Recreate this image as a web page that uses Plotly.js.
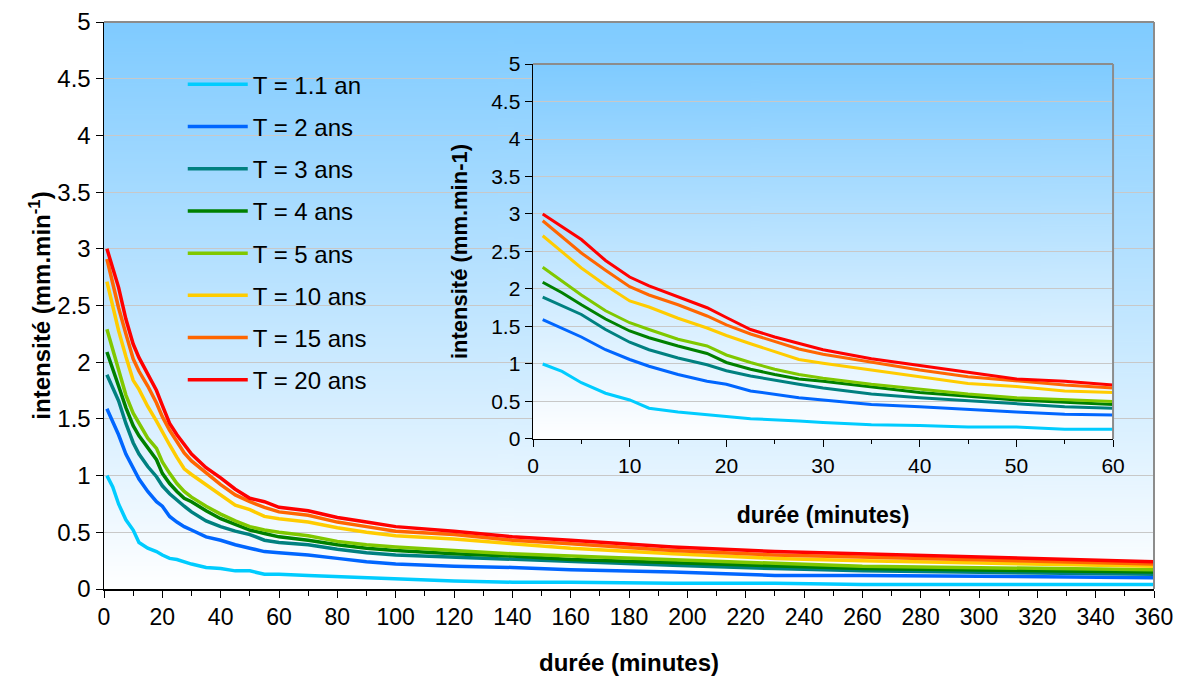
<!DOCTYPE html>
<html><head><meta charset="utf-8">
<script src="https://cdn.plot.ly/plotly-3.0.1.min.js"></script>
<style>html,body{margin:0;padding:0;background:#fff;} #chart{width:1187px;height:679px;}</style>
</head><body><div id="chart"></div>
<script>
// durée (minutes)
const durations = [1, 3, 5, 7.5, 10, 12, 15, 18, 20, 22.5, 25, 27.5, 30, 35, 40, 45, 50, 55, 60, 70, 80, 90, 100, 120, 140, 160, 195, 230, 260, 360];
const seriesNames = ["T = 1.1 an", "T = 2 ans", "T = 3 ans", "T = 4 ans", "T = 5 ans", "T = 10 ans", "T = 15 ans", "T = 20 ans"];
// intensité (mm.min-1)
const T1_1 = [1.00, 0.90, 0.75, 0.61, 0.52, 0.41, 0.36, 0.33, 0.30, 0.27, 0.26, 0.24, 0.22, 0.19, 0.18, 0.16, 0.16, 0.13, 0.13, 0.12, 0.11, 0.10, 0.09, 0.07, 0.06, 0.06, 0.05, 0.05, 0.04, 0.04];
const T2   = [1.59, 1.48, 1.36, 1.19, 1.06, 0.97, 0.86, 0.77, 0.73, 0.64, 0.59, 0.55, 0.52, 0.46, 0.43, 0.39, 0.36, 0.33, 0.32, 0.30, 0.27, 0.24, 0.22, 0.20, 0.19, 0.17, 0.15, 0.12, 0.12, 0.10];
const T3   = [1.89, 1.78, 1.66, 1.46, 1.29, 1.19, 1.08, 0.99, 0.91, 0.84, 0.78, 0.73, 0.68, 0.60, 0.55, 0.51, 0.48, 0.43, 0.41, 0.39, 0.35, 0.32, 0.30, 0.28, 0.26, 0.24, 0.21, 0.18, 0.16, 0.13];
const T4   = [2.09, 1.95, 1.79, 1.60, 1.44, 1.35, 1.24, 1.14, 1.02, 0.93, 0.86, 0.80, 0.77, 0.69, 0.62, 0.57, 0.52, 0.49, 0.46, 0.43, 0.39, 0.36, 0.34, 0.31, 0.29, 0.26, 0.23, 0.20, 0.18, 0.15];
const T5   = [2.29, 2.11, 1.92, 1.71, 1.55, 1.46, 1.33, 1.24, 1.12, 1.02, 0.93, 0.86, 0.81, 0.73, 0.66, 0.60, 0.55, 0.52, 0.50, 0.47, 0.42, 0.39, 0.37, 0.34, 0.31, 0.29, 0.26, 0.23, 0.20, 0.17];
const T10  = [2.71, 2.50, 2.28, 2.05, 1.84, 1.76, 1.61, 1.48, 1.38, 1.27, 1.16, 1.06, 1.01, 0.92, 0.83, 0.74, 0.70, 0.64, 0.62, 0.59, 0.54, 0.50, 0.47, 0.44, 0.40, 0.36, 0.31, 0.27, 0.25, 0.20];
const T15  = [2.91, 2.70, 2.48, 2.25, 2.03, 1.92, 1.79, 1.64, 1.52, 1.40, 1.30, 1.20, 1.13, 1.02, 0.92, 0.83, 0.77, 0.72, 0.68, 0.65, 0.59, 0.55, 0.51, 0.48, 0.43, 0.40, 0.34, 0.30, 0.28, 0.22];
const T20  = [3.00, 2.83, 2.66, 2.38, 2.16, 2.04, 1.89, 1.75, 1.62, 1.46, 1.36, 1.28, 1.19, 1.07, 0.98, 0.88, 0.80, 0.77, 0.72, 0.69, 0.63, 0.59, 0.55, 0.51, 0.46, 0.43, 0.37, 0.33, 0.31, 0.24];
const seriesValues = [T1_1, T2, T3, T4, T5, T10, T15, T20];
const seriesColors = ["#00CCFF", "#0066FF", "#008080", "#008000", "#80C800", "#FFCC00", "#FF6600", "#FF0000"];
const insetMax = 60;

function gradientURI(top, bottom) {
  const c = document.createElement('canvas');
  c.width = 4; c.height = 512;
  const g = c.getContext('2d');
  const gr = g.createLinearGradient(0, 0, 0, 512);
  gr.addColorStop(0, top); gr.addColorStop(1, bottom);
  g.fillStyle = gr; g.fillRect(0, 0, 4, 512);
  return c.toDataURL('image/png');
}
const grad = gradientURI('#7FCBFF', '#FFFFFF');

const traces = [];
seriesNames.forEach((name, i) => {
  traces.push({
    type: 'scatter', mode: 'lines', name: name,
    x: durations, y: seriesValues[i], xaxis: 'x', yaxis: 'y',
    line: {color: seriesColors[i], width: 3.5},
    legendgroup: 'g' + i, showlegend: true, hoverinfo: 'x+y'
  });
});
seriesNames.forEach((name, i) => {
  const xs = [], ys = [];
  durations.forEach((d, k) => { if (d <= insetMax) { xs.push(d); ys.push(seriesValues[i][k]); } });
  traces.push({
    type: 'scatter', mode: 'lines', name: name,
    x: xs, y: ys, xaxis: 'x2', yaxis: 'y2',
    line: {color: seriesColors[i], width: 3},
    legendgroup: 'g' + i, showlegend: false, hoverinfo: 'x+y'
  });
});

const font = {family: '"Liberation Sans", Arial, sans-serif', color: '#000'};
const border = {color: '#8C8C8C', width: 2};

const layout = {
  width: 1187, height: 679,
  margin: {l: 104, r: 33, t: 22, b: 90, pad: 0},
  paper_bgcolor: '#FFFFFF', plot_bgcolor: '#FFFFFF',
  font: Object.assign({size: 22}, font),
  showlegend: true,
  legend: {x: 0.075, y: 0.929, xanchor: 'left', yanchor: 'top', bgcolor: 'rgba(0,0,0,0)',
           font: Object.assign({size: 24}, font), tracegroupgap: 8, itemwidth: 60},
  xaxis: {
    domain: [0, 1], anchor: 'y', range: [0, 360], dtick: 20, tick0: 0,
    ticks: 'outside', ticklen: 7, tickwidth: 1, tickcolor: '#000',
    showline: true, linecolor: '#000', linewidth: 1.5, showgrid: false, zeroline: false,
    tickfont: Object.assign({size: 23}, font),
    minor: {dtick: 10, ticks: 'outside', ticklen: 5, tickcolor: '#000', showgrid: false},
    title: {text: '<b>durée (minutes)</b>', font: Object.assign({size: 24}, font), standoff: 25}
  },
  yaxis: {
    domain: [0, 1], anchor: 'x', range: [0, 5], dtick: 0.5, tick0: 0,
    ticks: 'outside', ticklen: 7, tickwidth: 1, tickcolor: '#000',
    showline: true, linecolor: '#000', linewidth: 1.5, showgrid: true, gridcolor: '#C8C8C8', gridwidth: 1, zeroline: false,
    tickfont: Object.assign({size: 24}, font),
    title: {text: '<b>intensité (mm.min<sup>-1</sup>)</b>', font: Object.assign({size: 24}, font), standoff: 0}
  },
  xaxis2: {
    domain: [0.4086, 0.9610], anchor: 'y2', range: [0, 60], dtick: 10, tick0: 0,
    ticks: 'outside', ticklen: 7, tickwidth: 1, tickcolor: '#000',
    showline: true, linecolor: '#000', linewidth: 1.5, showgrid: false, zeroline: false,
    tickfont: Object.assign({size: 21}, font),
    minor: {dtick: 5, ticks: 'outside', ticklen: 4, tickcolor: '#000', showgrid: false},
    title: {text: '<b>durée (minutes)</b>', font: Object.assign({size: 23}, font), standoff: 31}
  },
  yaxis2: {
    domain: [0.2646, 0.9259], anchor: 'x2', range: [0, 5], dtick: 0.5, tick0: 0,
    ticks: 'outside', ticklen: 7, tickwidth: 1, tickcolor: '#000',
    showline: true, linecolor: '#000', linewidth: 1.5, showgrid: true, gridcolor: '#C8C8C8', gridwidth: 1, zeroline: false,
    tickfont: Object.assign({size: 21}, font),
    title: {text: '<b>intensité (mm.min-1)</b>', font: Object.assign({size: 22}, font), standoff: 17}
  },
  images: [
    {source: grad, xref: 'x', yref: 'y', x: 0, y: 5, sizex: 360, sizey: 5, sizing: 'stretch',
     xanchor: 'left', yanchor: 'top', layer: 'below'},
    {source: grad, xref: 'x2', yref: 'y2', x: 0, y: 5, sizex: 60, sizey: 5, sizing: 'stretch',
     xanchor: 'left', yanchor: 'top', layer: 'below'}
  ],
  shapes: [
    {type: 'line', xref: 'x domain', yref: 'y domain', x0: 0, x1: 1, y0: 1, y1: 1, line: border},
    {type: 'line', xref: 'x domain', yref: 'y domain', x0: 1, x1: 1, y0: 0, y1: 1, line: border},
    {type: 'line', xref: 'x2 domain', yref: 'y2 domain', x0: 0, x1: 1, y0: 1, y1: 1, line: border},
    {type: 'line', xref: 'x2 domain', yref: 'y2 domain', x0: 1, x1: 1, y0: 0, y1: 1, line: border}
  ]
};

Plotly.newPlot('chart', traces, layout, {displayModeBar: false, staticPlot: true});
</script>
</body></html>
